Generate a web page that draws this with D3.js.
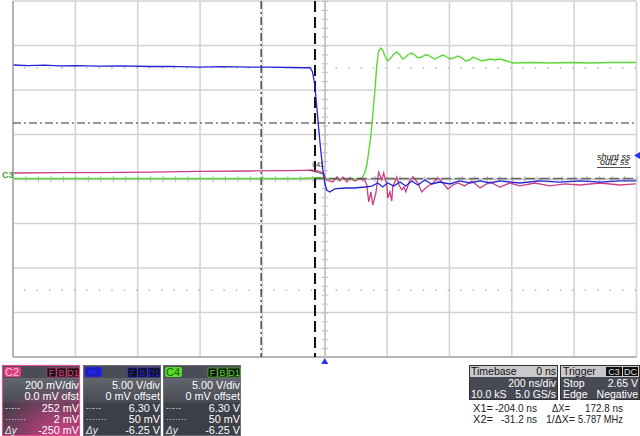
<!DOCTYPE html>
<html><head><meta charset="utf-8">
<script src="https://cdn.jsdelivr.net/npm/d3@7"></script>
<style>body{margin:0;background:#fff;overflow:hidden}svg{display:block;font-family:"Liberation Sans",Arial,sans-serif}</style>
</head><body><svg id="c" width="640" height="436"></svg>
<script>
// ---- data (time in ns, C2 in mV, C3/C4 in V) ----
const c3Time = [-998,-950,-900,-851,-800,-722,-650,-562,-500,-401,-330,-241,-180,-112,-64,-48,-39,-32,-26,-19,-13,-6,0,6,16,32,64,96,128,151,170,186,202,222,241,260,279,299,321,343,369,401,433,465,498,530,562,626,690,754,819,883,947,998];
const c3Volts = [12.81,12.75,12.80,12.70,12.74,12.68,12.72,12.64,12.66,12.58,12.62,12.56,12.58,12.53,12.50,12.53,12.02,10.56,8.31,5.51,3.26,1.01,-0.45,-1.24,-1.46,-1.12,-1.01,-1.01,-0.90,-0.79,-0.45,-0.90,-0.45,-0.79,-0.34,-0.79,-0.22,-0.67,-0.11,-0.56,-0.34,-0.56,-0.22,-0.45,-0.22,-0.45,-0.22,-0.45,-0.22,-0.34,-0.22,-0.34,-0.22,-0.22];
const c4Time = [-998,-722,-401,-80,-16,0,48,96,119,128,135,141,148,154,161,167,173,180,186,193,202,212,222,231,241,250,260,270,279,289,299,311,321,331,340,353,366,379,392,401,414,427,440,453,465,475,491,504,517,530,546,562,584,604,658,722,786,851,915,998];
const c4Volts = [0.06,0.06,0.06,0.06,0.17,0.06,0,0,0.11,0.67,1.57,3.03,4.94,7.19,10.0,12.81,14.38,14.72,14.49,13.82,13.26,13.60,14.04,14.27,13.93,13.48,13.71,14.04,14.16,13.93,13.60,13.71,13.93,13.93,13.71,13.48,13.71,13.93,13.71,13.48,13.60,13.82,13.60,13.26,13.37,13.71,13.48,13.26,13.37,13.48,13.37,13.48,13.26,13.03,13.09,13.03,13.09,13.03,13.09,13.09];
const c2Time = [-998,-851,-722,-562,-401,-241,-112,-39,-22,-6,6,26,39,48,58,71,80,96,112,128,135,141,148,154,164,173,183,189,199,202,209,215,218,231,238,247,254,260,273,283,299,311,327,347,363,379,395,411,427,449,472,498,530,562,594,626,674,722,770,819,883,947,998];
const c2mV = [27,29,29,31,34,36,38,40,36,27,-4.5,-13,9,-9,9,-13,4.5,-9,0,-4.5,-27,-103,-58,-117,-63,31,-4.5,27,-27,-85,-58,-99,-36,9,-27,-49,-36,-58,-4.5,9,-18,-58,-36,-18,4.5,-18,-45,-27,-18,-31,-9,-40,-13,-36,-18,-31,-18,-31,-22,-27,-18,-27,-22];
const xGridNs = [-1000,-800,-600,-400,-200,0,200,400,600,800,1000];
const yGridDiv = [-4,-3,-2,-1,0,1,2,3,4];
const cursorX = [-204.0, -31.2];       // ns
const cursorYC3 = [6.30, 0.05];       // V
const triggerLevelC3 = 2.65;          // V
const chLabels = ["C2","C3","C4"];
const chScale = ["200 mV/div","5.00 V/div","5.00 V/div"];
const chOffset = ["0.0 mV ofst","0 mV offset","0 mV offset"];
const chCur1 = ["252 mV","6.30 V","6.30 V"];
const chCur2 = ["2 mV","50 mV","50 mV"];
const chDelta = ["-250 mV","-6.25 V","-6.25 V"];
const chColors = ["#e0407f","#2222e0","#55dd2a"];

// ---- scales ----
const x = d3.scaleLinear().domain([-1000,1000]).range([13,636.5]);
const yDiv = d3.scaleLinear().domain([-4,4]).range([357,1]);
const yC3 = v => yDiv(v/5);
const yC4 = v => yDiv(v/5);
const yC2 = mv => yDiv(mv/200);

const svg = d3.select('#c');
const g = svg.append('g');

// grid
g.selectAll('.vg').data(xGridNs).join('line')
  .attr('x1',d=>x(d)).attr('x2',d=>x(d)).attr('y1',yDiv(4)).attr('y2',yDiv(-4))
  .attr('stroke','#d3d3d3').attr('stroke-width',1.6);
g.selectAll('.hg').data(yGridDiv).join('line')
  .attr('x1',x(-1000)).attr('x2',x(1000)).attr('y1',d=>yDiv(d)).attr('y2',d=>yDiv(d))
  .attr('stroke','#d3d3d3').attr('stroke-width',1.6);
g.append('line').attr('x1',x(-1000)).attr('x2',x(-1000)).attr('y1',yDiv(4)).attr('y2',yDiv(-4)).attr('stroke','#a9a9a9').attr('stroke-width',1.6);
g.append('line').attr('x1',x(-1000)).attr('x2',x(1000)).attr('y1',yDiv(-4)).attr('y2',yDiv(-4)).attr('stroke','#a9a9a9').attr('stroke-width',1.6);
[2.5,-2.5].forEach(d=>{
  g.append('line').attr('x1',x(-1000)).attr('x2',x(1000)).attr('y1',yDiv(d)).attr('y2',yDiv(d))
   .attr('stroke','#b8b8b8').attr('stroke-width',1.3).attr('stroke-dasharray','1.5 10.96').attr('stroke-dashoffset',-11);
});
const vAx = g.append('g').attr('transform',`translate(${x(0)},0)`)
  .call(d3.axisRight(yDiv).tickValues(d3.range(-4,4.001,0.2)).tickSize(3).tickFormat(''));
vAx.selectAll('line').attr('x1',-3).attr('x2',3).attr('stroke','#bdbdbd');
vAx.select('.domain').attr('stroke','#c4c4c4').attr('stroke-width',1.4);
const hAx = g.append('g').attr('transform',`translate(0,${yDiv(0)})`)
  .call(d3.axisBottom(x).tickValues(d3.range(-1000,1000.1,40)).tickSize(3).tickFormat(''));
hAx.selectAll('line').attr('y1',-3).attr('y2',3).attr('stroke','#bdbdbd');
hAx.select('.domain').attr('stroke','#c4c4c4').attr('stroke-width',1.4);

g.append('line').attr('x1',x(cursorX[0])).attr('x2',x(cursorX[0])).attr('y1',yDiv(4)).attr('y2',yDiv(-4))
  .attr('stroke','#222').attr('stroke-width',1.2).attr('stroke-dasharray','8 3 2 3');
g.append('line').attr('x1',x(cursorX[1])).attr('x2',x(cursorX[1])).attr('y1',yDiv(4)).attr('y2',yDiv(-4))
  .attr('stroke','#111').attr('stroke-width',2).attr('stroke-dasharray','11 5');
g.append('line').attr('x1',x(-1000)).attr('x2',x(1000)).attr('y1',yC3(cursorYC3[0])).attr('y2',yC3(cursorYC3[0]))
  .attr('stroke','#333').attr('stroke-width',1.1).attr('stroke-dasharray','8 3 2 3');

const line = (xs, ys, yf) => d3.line().x((d,i)=>x(xs[i])).y((d,i)=>yf(ys[i]))(xs);
g.append('path').attr('d',line(c4Time,c4Volts,yC4)).attr('fill','none').attr('stroke','#5ad934').attr('stroke-width',1.4);
g.append('path').attr('d',line(c2Time,c2mV,yC2)).attr('fill','none').attr('stroke','#cc3f86').attr('stroke-width',1.3);
g.append('path').attr('d',line(c3Time,c3Volts,yC3)).attr('fill','none').attr('stroke','#2424d4').attr('stroke-width',1.3);

g.append('line').attr('x1',x(cursorX[1])).attr('x2',x(1000)).attr('y1',yC3(cursorYC3[1])).attr('y2',yC3(cursorYC3[1]))
  .attr('stroke','#555').attr('stroke-width',1.5).attr('stroke-dasharray','10 4').attr('opacity',0.85);

g.append('text').attr('x',2).attr('y',yDiv(0)-1).attr('font-size',9).attr('font-weight','bold').attr('fill','#3f9a4a').text('C3');
g.append('text').attr('x',x(-40)).attr('y',yDiv(0.27)).attr('font-size',7).attr('fill','#222').text('041');
g.append('line').attr('x1',x(-50)).attr('y1',yDiv(0.2)).attr('x2',x(0)).attr('y2',yDiv(0.1)).attr('stroke','#333').attr('stroke-width',0.8);
g.append('text').attr('x',597).attr('y',160).attr('font-size',9).attr('font-style','italic').attr('fill','#111').text('shunt ss');
g.append('text').attr('x',600).attr('y',165).attr('font-size',9).attr('font-style','italic').attr('fill','#111').text('out2 ss');
g.append('line').attr('x1',597).attr('x2',631).attr('y1',167.5).attr('y2',167.5).attr('stroke','#222').attr('stroke-width',0.8);
const ty = yC3(triggerLevelC3);
g.append('path').attr('d',`M634,${ty} L640,${ty-3.5} L640,${ty+3.5}Z`).attr('fill','#2233ee');
g.append('path').attr('d',`M${x(0)},358 L${x(0)-3.5},364 L${x(0)+3.5},364Z`).attr('fill','#2233ee');

// ---- channel panels ----
const defs = svg.append('defs');
const gr = defs.append('linearGradient').attr('id','body').attr('x1',0).attr('y1',0).attr('x2',0).attr('y2',1);
gr.append('stop').attr('offset','0').attr('stop-color','#63656f');
gr.append('stop').attr('offset','1').attr('stop-color','#474953');
const rg = defs.append('radialGradient').attr('id','pinkglow').attr('cx','0.75').attr('cy','1').attr('r','0.9');
rg.append('stop').attr('offset','0').attr('stop-color','#e0408a').attr('stop-opacity',0.95);
rg.append('stop').attr('offset','1').attr('stop-color','#e0408a').attr('stop-opacity',0);

const panelX = [2,83,163];
chLabels.forEach((lab,i)=>{
  const p = svg.append('g').attr('transform',`translate(${panelX[i]},365)`);
  const w = 78;
  p.append('rect').attr('x',0).attr('y',0).attr('width',w).attr('height',71).attr('fill','#3c3e48');
  p.append('rect').attr('x',0).attr('y',13).attr('width',w).attr('height',25).attr('fill','url(#body)');
  p.append('rect').attr('x',0).attr('y',0).attr('width',w).attr('height',13).attr('fill','#4a4c56');
  if(i===0){
    p.append('rect').attr('x',0).attr('y',13).attr('width',w).attr('height',58).attr('fill','url(#pinkglow)');
    p.append('rect').attr('x',0.5).attr('y',0.5).attr('width',w-1).attr('height',70).attr('fill','none').attr('stroke','#e0508f').attr('stroke-width',1.2);
  } else {
    p.append('rect').attr('x',0.5).attr('y',0.5).attr('width',w-1).attr('height',70).attr('fill','none').attr('stroke','#6a6c76').attr('stroke-width',1);
  }
  p.append('rect').attr('x',2).attr('y',2).attr('width',17).attr('height',10).attr('rx',2).attr('fill',chColors[i]);
  p.append('text').attr('x',3).attr('y',11).attr('font-size',11).attr('fill',i===1?'#1818a0':(i===0?'#f4c0d8':'#206010')).text(lab);
  ['F','B','D1'].forEach((t,k)=>{
    const bx = [45,55,65][k], bw=[9,9,12][k];
    p.append('rect').attr('x',bx).attr('y',3).attr('width',bw).attr('height',9).attr('fill','#111').attr('stroke',chColors[i]).attr('stroke-width',0.6);
    p.append('text').attr('x',bx+bw/2).attr('y',11).attr('text-anchor','middle').attr('font-size',9).attr('fill',chColors[i]).text(t);
  });
  const rows = [[chScale[i],24],[chOffset[i],35],[chCur1[i],47],[chCur2[i],58],[chDelta[i],69]];
  rows.forEach(([t,yy])=>p.append('text').attr('x',w-1).attr('y',yy).attr('text-anchor','end').attr('font-size',10.8).attr('fill','#fff').text(t));
  p.append('text').attr('x',3).attr('y',46).attr('font-size',9).attr('fill','#ddd').text('-·-·-');
  p.append('text').attr('x',3).attr('y',57).attr('font-size',9).attr('fill','#ddd').text('·······');
  p.append('text').attr('x',3).attr('y',69).attr('font-size',10).attr('font-style','italic').attr('fill','#eee').text('Δy');
});

// ---- timebase / trigger ----
const tb = svg.append('g');
tb.append('rect').attr('x',469).attr('y',365).attr('width',89).attr('height',35).attr('fill','#474a55');
tb.append('rect').attr('x',469).attr('y',365).attr('width',89).attr('height',12).attr('fill','#c9c9cb');
tb.append('rect').attr('x',469.5).attr('y',365.5).attr('width',88).attr('height',34).attr('fill','none').attr('stroke','#333');
tb.append('text').attr('x',471).attr('y',375).attr('font-size',10.5).attr('fill','#111').text('Timebase');
tb.append('text').attr('x',556).attr('y',375).attr('font-size',10.5).attr('text-anchor','end').attr('fill','#111').text('0 ns');
tb.append('text').attr('x',556).attr('y',387).attr('font-size',10.5).attr('text-anchor','end').attr('fill','#fff').text('200 ns/div');
tb.append('text').attr('x',471).attr('y',398).attr('font-size',10.5).attr('fill','#fff').text('10.0 kS');
tb.append('text').attr('x',556).attr('y',398).attr('font-size',10.5).attr('text-anchor','end').attr('fill','#fff').text('5.0 GS/s');
tb.append('rect').attr('x',560).attr('y',365).attr('width',80).attr('height',35).attr('fill','#474a55');
tb.append('rect').attr('x',560).attr('y',365).attr('width',80).attr('height',12).attr('fill','#c9c9cb');
tb.append('rect').attr('x',560.5).attr('y',365.5).attr('width',79).attr('height',34).attr('fill','none').attr('stroke','#333');
tb.append('text').attr('x',563).attr('y',375).attr('font-size',10.5).attr('fill','#111').text('Trigger');
tb.append('rect').attr('x',606).attr('y',367).attr('width',16).attr('height',9).attr('fill','#111');
tb.append('text').attr('x',614).attr('y',375).attr('font-size',9).attr('text-anchor','middle').attr('fill','#ddd').text('C3');
tb.append('rect').attr('x',623).attr('y',367).attr('width',15).attr('height',9).attr('fill','#111');
tb.append('text').attr('x',630.5).attr('y',375).attr('font-size',9).attr('text-anchor','middle').attr('fill','#ddd').text('DC');
tb.append('text').attr('x',563).attr('y',387).attr('font-size',10.5).attr('fill','#fff').text('Stop');
tb.append('text').attr('x',638).attr('y',387).attr('font-size',10.5).attr('text-anchor','end').attr('fill','#fff').text('2.65 V');
tb.append('text').attr('x',563).attr('y',398).attr('font-size',10.5).attr('fill','#fff').text('Edge');
tb.append('text').attr('x',638).attr('y',398).attr('font-size',10.5).attr('text-anchor','end').attr('fill','#fff').text('Negative');
// measurements: [text, left x, baseline y, width]
const m = [["X1=",473,412,20],["-204.0 ns",495,412,42],["ΔX=",552,412,18],["172.8 ns",585,412,38],
           ["X2=",473,423,20],["-31.2 ns",501,423,36],["1/ΔX=",546,423,29],["5.787 MHz",578,423,45]];
m.forEach(([t,xx,yy,wd])=>tb.append('text').attr('x',xx).attr('y',yy).attr('font-size',10.5).attr('fill','#222')
  .attr('textLength',wd).attr('lengthAdjust','spacingAndGlyphs').text(t));
</script></body></html>
